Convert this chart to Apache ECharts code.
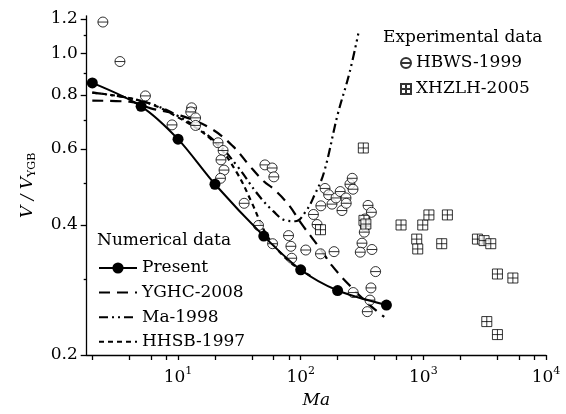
<!DOCTYPE html>
<html><head><meta charset="utf-8">
<script src="https://cdn.jsdelivr.net/npm/echarts@6/dist/echarts.min.js"></script>
<style>html,body{margin:0;padding:0;background:#fff}#c{width:566px;height:414px}</style>
</head><body><div id="c"></div>
<script>
// ---- data ----
const presentX = [2, 5, 10, 20, 50, 100, 200, 500];
const presentY = [0.853, 0.753, 0.632, 0.497, 0.377, 0.315, 0.282, 0.261];

const yghcX = [2, 4, 6, 10, 18, 28, 38, 50, 60, 80, 100, 125, 150, 180, 250, 360, 480];
const yghcY = [0.776, 0.772, 0.745, 0.72, 0.672, 0.609, 0.55, 0.505, 0.485, 0.445, 0.405, 0.372, 0.347, 0.322, 0.29, 0.262, 0.245];

const maX = [2, 5, 10, 20, 30, 45, 60, 75, 90, 110, 130, 155, 200, 250, 295];
const maY = [0.81, 0.775, 0.715, 0.625, 0.55, 0.47, 0.43, 0.41, 0.408, 0.43, 0.47, 0.53, 0.72, 0.9, 1.11];

const hhsbX = [2, 5, 10, 20, 30, 40, 50, 60, 80, 100, 120];
const hhsbY = [0.81, 0.775, 0.71, 0.62, 0.53, 0.45, 0.39, 0.36, 0.33, 0.315, 0.305];

const hbwsX = [2.44, 3.36, 5.42, 8.93, 12.9, 12.7, 13.9, 13.9, 21.2, 23.3, 22.4, 23.7, 22.2, 51.1, 58.5, 60.4,
  34.6, 45.3, 59.0, 79.6, 83.2, 84.5, 110, 145, 187, 158, 169, 146, 127, 136, 180, 194, 210, 217, 234, 235,
  252, 263, 267, 354, 377, 334, 336, 330, 316, 306, 381, 408, 374, 268, 367, 349];
const hbwsY = [1.18, 0.956, 0.796, 0.682, 0.747, 0.731, 0.708, 0.680, 0.620, 0.595, 0.566, 0.536, 0.513, 0.551, 0.542, 0.517,
  0.449, 0.399, 0.362, 0.378, 0.357, 0.335, 0.350, 0.343, 0.347, 0.486, 0.470, 0.443, 0.423, 0.401, 0.447, 0.462, 0.478, 0.432, 0.462, 0.449,
  0.497, 0.513, 0.484, 0.444, 0.428, 0.413, 0.397, 0.385, 0.363, 0.346, 0.351, 0.312, 0.286, 0.279, 0.268, 0.252];

const xhzlhX = [324, 328, 340, 145, 658, 989, 1110, 1570, 883, 900, 1412, 2760, 3127, 3546, 4018, 5370, 3290, 4018];
const xhzlhY = [0.603, 0.410, 0.402, 0.390, 0.400, 0.400, 0.422, 0.422, 0.371, 0.352, 0.362, 0.371, 0.368, 0.362, 0.308, 0.3015, 0.239, 0.223];

const xTicks = [2, 4, 6, 8, 10, 20, 40, 60, 80, 100, 200, 400, 600, 800, 1000, 2000, 4000, 6000, 8000, 10000];
const xLabels = [10, 100, 1000, 10000];
const yLabels = [0.2, 0.4, 0.6, 0.8, 1.0, 1.2];
const yMinorTicks = [0.3, 0.5, 0.7, 0.9, 1.1];

// ---- helpers ----
const zip = (xs, ys) => xs.map((x, i) => [x, ys[i]]);
const FONT = 'DejaVu Serif';
const FS = 17;
const circleMinus = 'path://M0,10A10,10,0,1,1,20,10A10,10,0,1,1,0,10ZM0,10L20,10';
const squarePlus = 'path://M0,0H20V20H0ZM10,0V20M0,10H20';
const axisStyle = { color: '#000', width: 1.3 };

const chart = echarts.init(document.getElementById('c'), null, { renderer: 'canvas' });
chart.setOption({
  animation: false,
  backgroundColor: '#fff',
  textStyle: { fontFamily: FONT, color: '#000' },
  grid: { left: 86.7, right: 20, top: 15.8, bottom: 57.3, containLabel: false },
  xAxis: {
    type: 'log', logBase: 10, min: 1.8, max: 10000,
    axisLine: { lineStyle: axisStyle },
    axisTick: { customValues: xTicks, length: 5, lineStyle: axisStyle },
    axisLabel: {
      customValues: xLabels, margin: 11, color: '#000', fontFamily: FONT, fontSize: FS,
      formatter: v => '10{sup|' + Math.round(Math.log10(v)) + '}',
      rich: { sup: { fontSize: 11, fontFamily: FONT, color: '#000', padding: [0, 0, 12, 0] } }
    },
    splitLine: { show: false },
    name: 'Ma', nameLocation: 'middle', nameGap: 37,
    nameTextStyle: { fontFamily: FONT, fontSize: FS, fontStyle: 'italic', color: '#000' }
  },
  yAxis: [{
    type: 'log', logBase: 10, min: 0.2, max: 1.22, position: 'left',
    axisLine: { lineStyle: axisStyle },
    axisTick: { customValues: yLabels, length: 6, lineStyle: axisStyle },
    axisLabel: { customValues: yLabels, margin: 9, color: '#000', fontFamily: FONT, fontSize: FS, formatter: v => Number(v).toFixed(1) },
    splitLine: { show: false },
    name: '{it|V / V}{sub|YGB}', nameLocation: 'middle', nameGap: 49, nameRotate: 90,
    nameTextStyle: {
      rich: {
        it: { fontFamily: FONT, fontSize: FS, fontStyle: 'italic', color: '#000' },
        sub: { fontFamily: FONT, fontSize: 11, color: '#000', padding: [10, 0, 0, 0] }
      }
    }
  }, {
    type: 'log', logBase: 10, min: 0.2, max: 1.22, position: 'left',
    axisLine: { show: false },
    axisTick: { customValues: yMinorTicks, length: 3, lineStyle: axisStyle },
    axisLabel: { show: false },
    splitLine: { show: false }
  }],
  legend: [{
    data: [
      { name: 'Present' },
      { name: 'YGHC-2008', itemStyle: { opacity: 0 } },
      { name: 'Ma-1998', itemStyle: { opacity: 0 } },
      { name: 'HHSB-1997', itemStyle: { opacity: 0 } }
    ],
    orient: 'vertical', left: 93, top: 253, itemWidth: 38, itemHeight: 14, itemGap: 4.6, itemTextGap: 8,
    textStyle: { fontFamily: FONT, fontSize: FS, color: '#000', lineHeight: 20 }
  }, {
    data: ['HBWS-1999', 'XHZLH-2005'],
    orient: 'vertical', left: 395, top: 48, itemWidth: 10, itemHeight: 10, itemGap: 6, itemTextGap: 10,
    textStyle: { fontFamily: FONT, fontSize: FS, color: '#000', lineHeight: 20 }
  }],
  graphic: [
    { type: 'text', left: 97, top: 232, style: { text: 'Numerical data', font: FS + 'px "' + FONT + '"', fill: '#000' } },
    { type: 'text', left: 383, top: 29, style: { text: 'Experimental data', font: FS + 'px "' + FONT + '"', fill: '#000' } }
  ],
  series: [
    { name: 'YGHC-2008', type: 'line', smooth: 0.4, symbol: 'none', data: zip(yghcX, yghcY),
      lineStyle: { color: '#000', width: 2.2, type: [11, 7] }, itemStyle: { color: '#000' }, z: 2 },
    { name: 'Ma-1998', type: 'line', smooth: 0.4, symbol: 'none', data: zip(maX, maY),
      lineStyle: { color: '#000', width: 2.2, type: [9, 4, 2, 4, 2, 4] }, itemStyle: { color: '#000' }, z: 2 },
    { name: 'HHSB-1997', type: 'line', smooth: 0.4, symbol: 'none', data: zip(hhsbX, hhsbY),
      lineStyle: { color: '#000', width: 2.2, type: [5, 4] }, itemStyle: { color: '#000' }, z: 2 },
    { name: 'HBWS-1999', type: 'scatter', symbol: circleMinus, symbolSize: 10, data: zip(hbwsX, hbwsY),
      itemStyle: { color: '#fff', borderColor: '#000', borderWidth: 1 }, z: 3 },
    { name: 'XHZLH-2005', type: 'scatter', symbol: squarePlus, symbolSize: 10, data: zip(xhzlhX, xhzlhY),
      itemStyle: { color: '#fff', borderColor: '#000', borderWidth: 1 }, z: 3 },
    { name: 'Present', type: 'line', smooth: 0.3, symbol: 'circle', symbolSize: 11, data: zip(presentX, presentY),
      lineStyle: { color: '#000', width: 2 }, itemStyle: { color: '#000' }, z: 4 }
  ]
});
</script>
</body></html>
